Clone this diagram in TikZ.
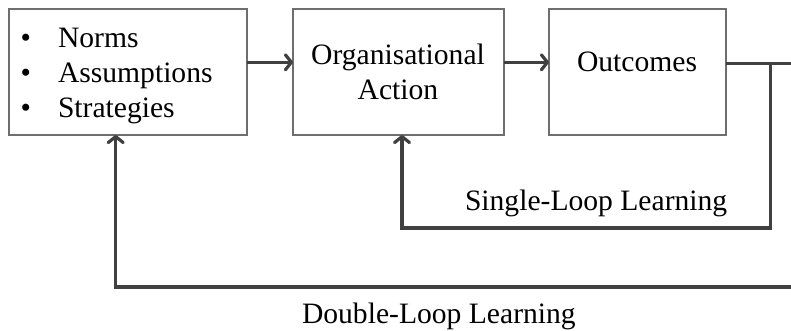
\documentclass[tikz,border=0pt]{standalone}
\usepackage{fontspec}
\setmainfont{Liberation Serif}
\usetikzlibrary{arrows.meta}
\definecolor{linegray}{HTML}{404040}
\definecolor{boxgray}{HTML}{6E6E6E}
\tikzset{
  box/.style={draw=boxgray, line width=1.4pt, fill=white, inner sep=0pt, outer sep=0pt},
  txt/.style={inner sep=0pt, outer sep=0pt, font=\fontsize{29.6}{35}\selectfont},
  link/.style={draw=linegray, line width=3.2pt},
  arr/.style={link, -{Straight Barb[length=6pt,width=15pt,line cap=round,line join=round]}},
}
\begin{document}
\begin{tikzpicture}[x=1pt, y=-1pt]
\useasboundingbox (0,0) rectangle (791,331);

% the three boxes
\node[box, minimum width=238pt, minimum height=126pt] (basis) at (128,72) {};
\node[box, minimum width=211pt, minimum height=126pt] (action) at (398.5,72) {};
\node[box, minimum width=177pt, minimum height=126pt] (outcomes) at (637.5,72) {};

% contents of the first box
\node[txt, anchor=base] (b1) at (25.8,48) {•};
\node[txt, anchor=base] (b2) at (25.8,83) {•};
\node[txt, anchor=base] (b3) at (25.8,118) {•};
\node[txt, anchor=base west] (norms) at (58,48) {Norms};
\node[txt, anchor=base west] (assump) at (58,83) {Assumptions};
\node[txt, anchor=base west] (strat) at (58,118) {Strategies};

% contents of the other boxes
\node[txt, anchor=base] (org1) at (398,65) {Organisational};
\node[txt, anchor=base] (org2) at (398,100) {Action};
\node[txt, anchor=base] (out1) at (637,72) {Outcomes};

% loop labels
\node[txt, anchor=base west] (single) at (465,210) {Single-Loop Learning};
\node[txt, anchor=base west] (double) at (302,323) {Double-Loop Learning};

% forward chain
\draw[arr] ([yshift=9.7pt]basis.east) -- ([yshift=9.7pt]action.west);
\draw[arr] ([yshift=9.7pt]action.east) -- ([yshift=9.7pt]outcomes.west);

% feedback lines
\coordinate (rend) at (791,63.3);
\coordinate (split) at (770.7,63.3);
\coordinate (sl) at (402,228);
\coordinate (dright) at (791,287);
\coordinate (dl) at (115.7,287);

\draw[link] ([yshift=8.7pt]outcomes.east) -- (rend);
\draw[arr] (split) |- (sl) -- (sl |- action.south);
\draw[arr] (dright) -- (dl) -- (dl |- basis.south);
\end{tikzpicture}
\end{document}
